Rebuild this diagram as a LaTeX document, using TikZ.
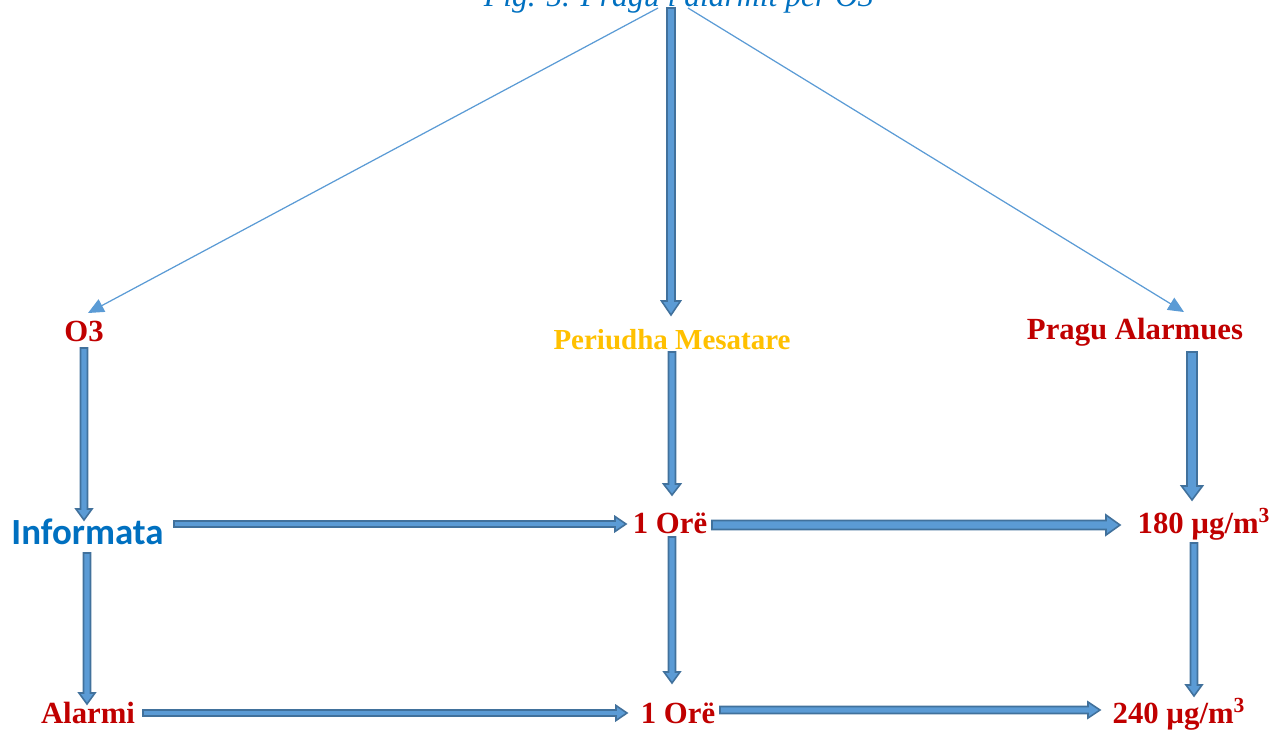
\documentclass[tikz,border=0pt]{standalone}
\usepackage{fontspec}
\setmainfont{Liberation Serif}
\newfontfamily\calibri{Carlito}
\usetikzlibrary{calc,arrows.meta}
\definecolor{lblred}{HTML}{C00000}
\definecolor{lblorange}{HTML}{FFC000}
\definecolor{lblblue}{HTML}{0070C0}
\definecolor{arrfill}{HTML}{5B9BD5}
\definecolor{arrline}{HTML}{41719C}

% block arrow: start, end, half shaft, half head, head length (px)
\newcommand\barrow[5]{%
  \pgfmathsetlengthmacro\baw{#3*0.02cm}%
  \pgfmathsetlengthmacro\bahw{#4*0.02cm}%
  \pgfmathsetlengthmacro\bal{#5*0.02cm}%
  \path (#1) coordinate (ba-s) (#2) coordinate (ba-t);
  \path ($(ba-t)!\bal!(ba-s)$) coordinate (ba-h);
  \filldraw[blockarr] ($(ba-s)!\baw!90:(ba-t)$) -- ($(ba-h)!\baw!90:(ba-t)$)
    -- ($(ba-h)!\bahw!90:(ba-t)$) -- (ba-t) -- ($(ba-h)!\bahw!-90:(ba-t)$)
    -- ($(ba-h)!\baw!-90:(ba-t)$) -- ($(ba-s)!\baw!-90:(ba-t)$) -- cycle;
}

\begin{document}
\begin{tikzpicture}[x=0.02cm, y=-0.02cm,
  every node/.style={inner sep=0pt, anchor=base},
  red/.style={font=\fontsize{17.5}{20}\selectfont\bfseries, text=lblred},
  blockarr/.style={fill=arrfill, draw=arrline, line width=0.9pt, line join=miter},
  thin/.style={draw=arrfill, line width=0.7pt, -{Triangle[length=9pt,width=8pt]}},
]
\useasboundingbox (0,0) rectangle (1283,735);
% ---- title (cut at the top edge) ----
\node[font=\fontsize{18}{20}\selectfont\itshape, text=lblblue] (title) at (679,6)
  {Fig. 5. Pragu i alarmit për O3};
% ---- row 1 ----
\node[red] (o3) at (84,341) {O3};
\node[font=\fontsize{16.5}{20}\selectfont\bfseries, text=lblorange] (periudha) at (672,349)
  {Periudha Mesatare};
\node[red] (pragu) at (1135,339) {Pragu Alarmues};
% ---- row 2 ----
\node[font=\fontsize{21}{24}\selectfont\calibri\bfseries, text=lblblue] (informata) at (87.5,544)
  {Informata};
\node[red] (ore1) at (670,533) {1 Orë};
\node[red] (v180) at (1204,533) {180 µg/m\textsuperscript{3}};
% ---- row 3 ----
\node[red] (alarmi) at (88,723) {Alarmi};
\node[red] (ore2) at (678,723) {1 Orë};
\node[red] (v240) at (1179,723) {240 µg/m\textsuperscript{3}};
% ---- thin arrows from the title ----
\draw[thin] ($(title.base)+(-21,2)$) -- ($(o3.base)+(4,-28)$);
\draw[thin] ($(title.base)+(9,2)$) -- ($(pragu.base)+(49,-27)$);
% ---- vertical block arrows ----
\barrow{$(title.base)+(-8,2)$}{$(periudha.base)+(-1,-34)$}{4}{9.5}{14}
\barrow{$(o3.base)+(0,7)$}{$(informata.base)+(-3.5,-24)$}{3.5}{8}{11}
\barrow{$(periudha.base)+(0,3)$}{$(ore1.base)+(2,-38)$}{3.5}{8.5}{11}
\barrow{$(pragu.base)+(57,13)$}{$(v180.base)+(-12,-33)$}{5}{10.5}{14}
\barrow{$(informata.base)+(-0.5,9)$}{$(alarmi.base)+(-1,-19)$}{3.5}{8}{11}
\barrow{$(ore1.base)+(2,4)$}{$(ore2.base)+(-6,-40)$}{3.5}{8}{11}
\barrow{$(v180.base)+(-10,10)$}{$(v240.base)+(15,-27)$}{3.5}{8}{11}
% ---- horizontal block arrows ----
\barrow{$(informata.base)+(86.5,-20)$}{$(ore1.base)+(-44,-9)$}{3}{7.5}{11}
\barrow{$(ore1.base)+(42,-8)$}{$(v180.base)+(-84,-8)$}{4.5}{10}{14}
\barrow{$(alarmi.base)+(55,-10)$}{$(ore2.base)+(-51,-10)$}{3}{7.5}{11}
\barrow{$(ore2.base)+(42,-13)$}{$(v240.base)+(-79,-13)$}{3.5}{8}{12}
\end{tikzpicture}
\end{document}
